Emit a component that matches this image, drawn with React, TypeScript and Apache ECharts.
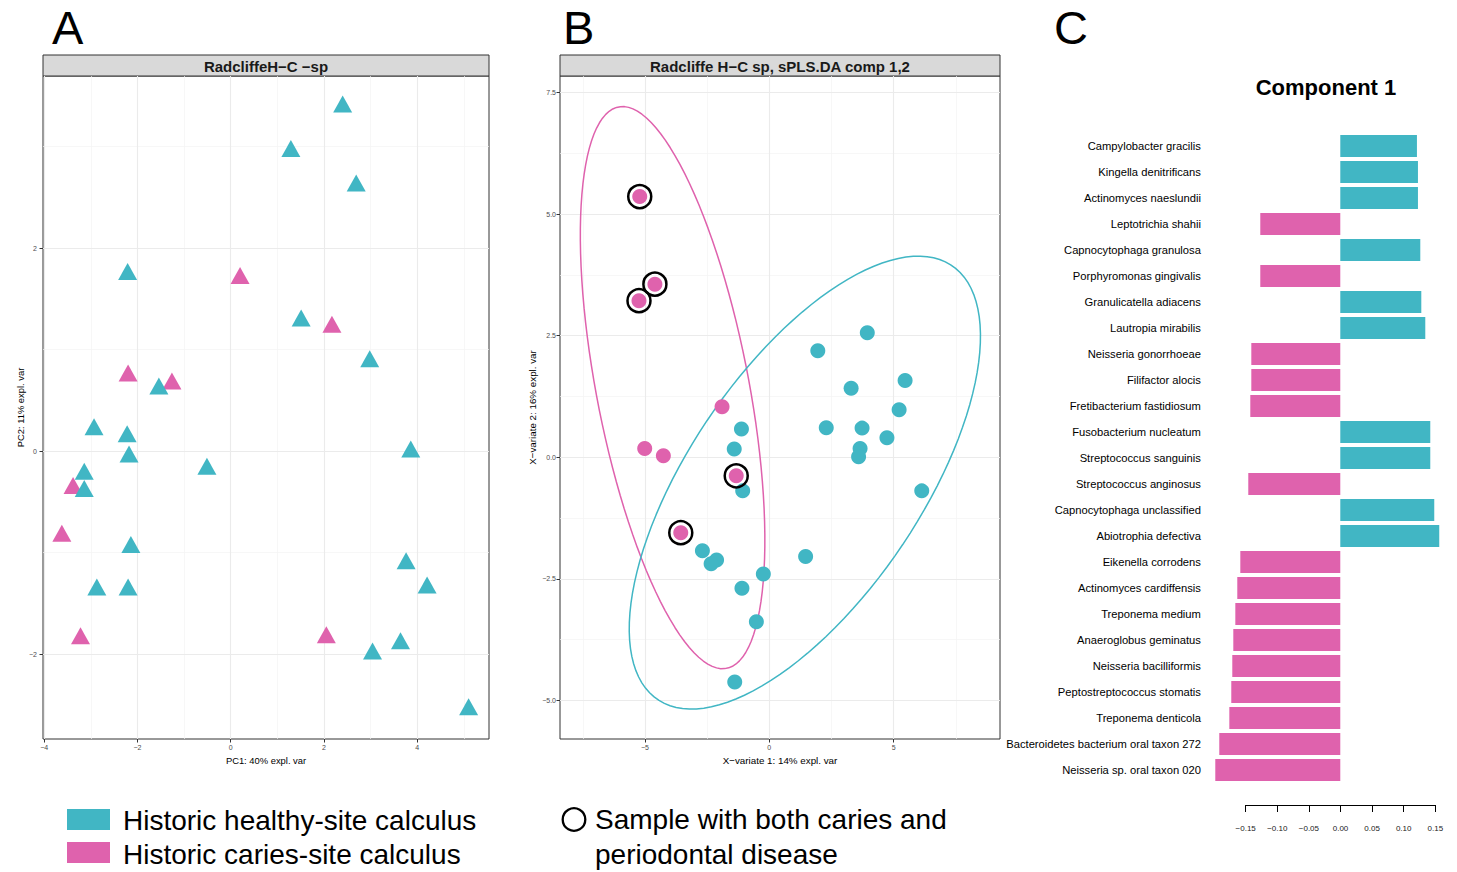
import React, { useEffect, useRef } from 'react';
import * as echarts from 'echarts';

// ---------------- DATA ----------------
// Panel A: PCA scores (PC1, PC2)
const healthyPCA: [number, number][] = [
  [2.40, 3.42], [1.29, 2.98], [2.69, 2.64], [-2.21, 1.77], [1.51, 1.31], [2.98, 0.91],
  [-1.54, 0.64], [-2.93, 0.24], [-2.22, 0.17], [-2.18, -0.03], [-0.51, -0.15], [3.86, 0.02],
  [-3.14, -0.20], [-3.14, -0.37], [-2.14, -0.92], [3.76, -1.08], [-2.87, -1.34], [-2.20, -1.34],
  [4.21, -1.32], [3.64, -1.87], [3.04, -1.97], [5.10, -2.52],
];
const cariesPCA: [number, number][] = [
  [0.20, 1.73], [2.17, 1.25], [-2.20, 0.77], [-1.26, 0.69], [-3.38, -0.34], [-3.62, -0.81],
  [-3.22, -1.82], [2.05, -1.81],
];

// Panel B: sPLS-DA variates (X-variate 1, X-variate 2)
const healthyPLSDA: [number, number][] = [
  [3.94, 2.56], [1.95, 2.19], [5.46, 1.58], [3.29, 1.42], [5.22, 0.98], [-1.12, 0.58],
  [2.29, 0.61], [3.73, 0.60], [4.73, 0.40], [-1.41, 0.17], [3.65, 0.18], [3.59, 0.01],
  [-1.07, -0.69], [6.13, -0.69], [-2.69, -1.92], [-2.12, -2.11], [-2.34, -2.19], [1.46, -2.04],
  [-0.24, -2.40], [-1.10, -2.69], [-0.52, -3.38], [-1.39, -4.62],
];
const cariesPLSDA: [number, number][] = [
  [-5.21, 5.36], [-4.60, 3.56], [-5.24, 3.22], [-1.90, 1.04], [-5.01, 0.18], [-4.26, 0.03],
  [-1.33, -0.38], [-3.56, -1.55],
];
// indices in cariesPLSDA of samples with both caries and periodontal disease
const bothDiseaseIdx: number[] = [0, 1, 2, 6, 7];

// Panel C: loadings on component 1
const speciesNames: string[] = [
  'Campylobacter gracilis', 'Kingella denitrificans', 'Actinomyces naeslundii', 'Leptotrichia shahii',
  'Capnocytophaga granulosa', 'Porphyromonas gingivalis', 'Granulicatella adiacens', 'Lautropia mirabilis',
  'Neisseria gonorrhoeae', 'Filifactor alocis', 'Fretibacterium fastidiosum', 'Fusobacterium nucleatum',
  'Streptococcus sanguinis', 'Streptococcus anginosus', 'Capnocytophaga unclassified', 'Abiotrophia defectiva',
  'Eikenella corrodens', 'Actinomyces cardiffensis', 'Treponema medium', 'Anaeroglobus geminatus',
  'Neisseria bacilliformis', 'Peptostreptococcus stomatis', 'Treponema denticola',
  'Bacteroidetes bacterium oral taxon 272', 'Neisseria sp. oral taxon 020',
];
const loadingValues: number[] = [
  0.1213, 0.1229, 0.1229, -0.1266, 0.1266, -0.1266, 0.1282, 0.1345,
  -0.1408, -0.1408, -0.1424, 0.1424, 0.1424, -0.1456, 0.1487, 0.1566,
  -0.1582, -0.1630, -0.1661, -0.1693, -0.1709, -0.1725, -0.1756, -0.1915, -0.1978,
];

// tick values
const aXTicks = [-4, -2, 0, 2, 4];
const aXMinor = [-3, -1, 1, 3, 5];
const aYTicks = [-2, 0, 2];
const aYMinor = [-1, 1, 3];
const bXTicks = [-5, 0, 5];
const bXMinor = [-7.5, -2.5, 2.5, 7.5];
const bYTicks = [-5, -2.5, 0, 2.5, 5, 7.5];
const bYMinor = [-3.75, -1.25, 1.25, 3.75, 6.25];

// ---------------- STYLE ----------------
const FONT = '"Liberation Sans", Arial, Helvetica, sans-serif';
const TEAL = '#41B6C4';
const PINK = '#DF62AD';

const CHI2_95_2DF = 2.4477; // sqrt(qchisq(0.95, 2))

function confidenceEllipse(pts: [number, number][], n = 120): [number, number][] {
  const m = pts.length;
  const cx = pts.reduce((s, p) => s + p[0], 0) / m;
  const cy = pts.reduce((s, p) => s + p[1], 0) / m;
  let sxx = 0, syy = 0, sxy = 0;
  pts.forEach(([x, y]) => {
    sxx += (x - cx) * (x - cx);
    syy += (y - cy) * (y - cy);
    sxy += (x - cx) * (y - cy);
  });
  sxx /= m - 1; syy /= m - 1; sxy /= m - 1;
  const sx = Math.sqrt(sxx), sy = Math.sqrt(syy);
  const r = Math.max(-1, Math.min(1, sxy / (sx * sy)));
  const d = Math.acos(r);
  const out: [number, number][] = [];
  for (let i = 0; i <= n; i++) {
    const a = (2 * Math.PI * i) / n;
    out.push([
      CHI2_95_2DF * sx * Math.cos(a + d / 2) + cx,
      CHI2_95_2DF * sy * Math.cos(a - d / 2) + cy,
    ]);
  }
  return out;
}

const minus = (s: string) => s.replace('-', '\u2212');

function majorAxis(o: any) {
  return {
    type: 'value',
    gridIndex: o.grid,
    position: o.position,
    min: o.min,
    max: o.max,
    axisLine: { show: false, onZero: false },
    axisTick: { show: true, length: 3.5, lineStyle: { color: '#333333', width: 1 }, customValues: o.ticks },
    axisLabel: {
      customValues: o.ticks,
      formatter: o.fmt,
      color: '#4D4D4D',
      fontSize: 7,
      fontFamily: FONT,
      margin: o.margin,
      showMinLabel: true,
      showMaxLabel: true,
    },
    splitLine: { show: true, lineStyle: { color: '#EBEBEB', width: 1.1 } },
    name: o.name,
    nameLocation: 'middle',
    nameGap: o.nameGap,
    nameTextStyle: { fontSize: o.nameSize, fontFamily: FONT, color: '#000000' },
    z: 1,
  };
}

function minorAxis(o: any) {
  return {
    type: 'value',
    gridIndex: o.grid,
    position: o.position,
    min: o.min,
    max: o.max,
    axisLine: { show: false, onZero: false },
    axisTick: { show: false, customValues: o.ticks },
    axisLabel: { show: false, customValues: o.ticks },
    splitLine: { show: true, lineStyle: { color: '#F3F3F3', width: 0.7 } },
    z: 0,
  };
}

export default function App() {
  const ref = useRef<HTMLDivElement>(null);

  useEffect(() => {
    document.body.style.margin = '0';
    document.body.style.overflow = 'hidden';
    if (!ref.current) return;
    const chart = echarts.init(ref.current, undefined, { renderer: 'svg' });

    const circled = bothDiseaseIdx.map((i) => cariesPLSDA[i]);
    const axisFmt = (v: number) => minus(String(v));
    const axisFmt1 = (v: number) => minus(v.toFixed(1));

    const option: any = {
      animation: false,
      backgroundColor: '#ffffff',
      textStyle: { fontFamily: FONT },
      grid: [
        { left: 43, top: 76, width: 446, height: 663, show: true, borderColor: '#333333', borderWidth: 1, backgroundColor: 'transparent', outerBoundsMode: 'none' },
        { left: 560, top: 76, width: 440, height: 663, show: true, borderColor: '#333333', borderWidth: 1, backgroundColor: 'transparent', outerBoundsMode: 'none' },
        { left: 1213.9, top: 133, width: 227.5, height: 650, outerBoundsMode: 'none' },
        { left: 1245.7, top: 790, width: 189.6, height: 15, outerBoundsMode: 'none' },
      ],
      xAxis: [
        majorAxis({ grid: 0, position: 'bottom', min: -4.024, max: 5.537, ticks: aXTicks, fmt: axisFmt, margin: 5, name: 'PC1: 40% expl. var', nameGap: 15, nameSize: 9.4 }),
        minorAxis({ grid: 0, position: 'top', min: -4.024, max: 5.537, ticks: aXMinor }),
        majorAxis({ grid: 1, position: 'bottom', min: -8.416, max: 9.276, ticks: bXTicks, fmt: axisFmt, margin: 5, name: 'X\u2212variate 1: 14% expl. var', nameGap: 15, nameSize: 9.8 }),
        minorAxis({ grid: 1, position: 'top', min: -8.416, max: 9.276, ticks: bXMinor }),
        {
          type: 'value', gridIndex: 2, min: -0.2, max: 0.16,
          axisLine: { show: false, onZero: false }, axisTick: { show: false }, axisLabel: { show: false }, splitLine: { show: false },
        },
        {
          type: 'value', gridIndex: 3, position: 'bottom', min: -0.15, max: 0.15, interval: 0.05,
          axisLine: { show: true, onZero: false, lineStyle: { color: '#000000', width: 1 } },
          axisTick: { show: true, length: 7, lineStyle: { color: '#000000', width: 1 } },
          axisLabel: { color: '#222222', fontSize: 8, fontFamily: FONT, margin: 19, formatter: (v: number) => minus(v.toFixed(2)) },
          splitLine: { show: false },
        },
      ],
      yAxis: [
        majorAxis({ grid: 0, position: 'left', min: -2.837, max: 3.695, ticks: aYTicks, fmt: axisFmt, margin: 6, name: 'PC2: 11% expl. var', nameGap: 18, nameSize: 9.4 }),
        minorAxis({ grid: 0, position: 'right', min: -2.837, max: 3.695, ticks: aYMinor }),
        majorAxis({ grid: 1, position: 'left', min: -5.791, max: 7.839, ticks: bYTicks, fmt: axisFmt1, margin: 4, name: 'X\u2212variate 2: 16% expl. var', nameGap: 23, nameSize: 9.8 }),
        minorAxis({ grid: 1, position: 'right', min: -5.791, max: 7.839, ticks: bYMinor }),
        {
          type: 'category', gridIndex: 2, data: speciesNames, inverse: true,
          axisLine: { show: false }, axisTick: { show: false },
          axisLabel: { interval: 0, color: '#000000', fontSize: 11.2, fontFamily: FONT, margin: 13 },
          splitLine: { show: false },
        },
        { type: 'value', gridIndex: 3, show: false },
      ],
      series: [
        // Panel A
        {
          type: 'scatter', xAxisIndex: 0, yAxisIndex: 0, data: cariesPCA,
          symbol: 'triangle', symbolSize: [19, 17], itemStyle: { color: PINK, opacity: 1 }, z: 3,
        },
        {
          type: 'scatter', xAxisIndex: 0, yAxisIndex: 0, data: healthyPCA,
          symbol: 'triangle', symbolSize: [19, 17], itemStyle: { color: TEAL, opacity: 1 }, z: 4,
        },
        // Panel B ellipses
        {
          type: 'line', xAxisIndex: 2, yAxisIndex: 2, data: confidenceEllipse(cariesPLSDA),
          showSymbol: false, symbol: 'none', smooth: false, lineStyle: { color: PINK, width: 1.5 }, z: 2, silent: true,
        },
        {
          type: 'line', xAxisIndex: 2, yAxisIndex: 2, data: confidenceEllipse(healthyPLSDA),
          showSymbol: false, symbol: 'none', smooth: false, lineStyle: { color: TEAL, width: 1.5 }, z: 2, silent: true,
        },
        // Panel B points
        {
          type: 'scatter', xAxisIndex: 2, yAxisIndex: 2, data: healthyPLSDA,
          symbol: 'circle', symbolSize: 15, itemStyle: { color: TEAL, opacity: 1 }, z: 3,
        },
        {
          type: 'scatter', xAxisIndex: 2, yAxisIndex: 2, data: cariesPLSDA,
          symbol: 'circle', symbolSize: 15, itemStyle: { color: PINK, opacity: 1 }, z: 4,
        },
        {
          type: 'scatter', xAxisIndex: 2, yAxisIndex: 2, data: circled,
          symbol: 'circle', symbolSize: 23,
          itemStyle: { color: 'rgba(0,0,0,0)', borderColor: '#000000', borderWidth: 2.5, opacity: 1 }, z: 5,
        },
        // Panel C
        {
          type: 'bar', xAxisIndex: 4, yAxisIndex: 4, barWidth: 22,
          data: loadingValues.map((v) => ({ value: v, itemStyle: { color: v >= 0 ? TEAL : PINK } })),
        },
      ],
      graphic: [
        // strips
        { type: 'rect', shape: { x: 43, y: 55, width: 446, height: 21 }, style: { fill: '#D9D9D9', stroke: '#333333', lineWidth: 1 } },
        { type: 'text', x: 266, y: 66, style: { text: 'RadcliffeH\u2212C \u2212sp', fontSize: 15, fontWeight: 'bold', fontFamily: FONT, fill: '#1A1A1A', align: 'center', verticalAlign: 'middle', textAlign: 'center', textVerticalAlign: 'middle' } },
        { type: 'rect', shape: { x: 560, y: 55, width: 440, height: 21 }, style: { fill: '#D9D9D9', stroke: '#333333', lineWidth: 1 } },
        { type: 'text', x: 780, y: 66, style: { text: 'Radcliffe H\u2212C sp, sPLS.DA comp 1,2', fontSize: 15, fontWeight: 'bold', fontFamily: FONT, fill: '#1A1A1A', align: 'center', verticalAlign: 'middle', textAlign: 'center', textVerticalAlign: 'middle' } },
        // panel letters
        { type: 'text', x: 52, y: 27, style: { text: 'A', fontSize: 47, fontFamily: FONT, fill: '#000000', align: 'left', verticalAlign: 'middle', textAlign: 'left', textVerticalAlign: 'middle' } },
        { type: 'text', x: 563, y: 27, style: { text: 'B', fontSize: 47, fontFamily: FONT, fill: '#000000', align: 'left', verticalAlign: 'middle', textAlign: 'left', textVerticalAlign: 'middle' } },
        { type: 'text', x: 1054, y: 27, style: { text: 'C', fontSize: 47, fontFamily: FONT, fill: '#000000', align: 'left', verticalAlign: 'middle', textAlign: 'left', textVerticalAlign: 'middle' } },
        // component title
        { type: 'text', x: 1326, y: 87, style: { text: 'Component 1', fontSize: 22, fontWeight: 'bold', fontFamily: FONT, fill: '#000000', align: 'center', verticalAlign: 'middle', textAlign: 'center', textVerticalAlign: 'middle' } },
        // legend
        { type: 'rect', shape: { x: 67, y: 809, width: 43, height: 21 }, style: { fill: TEAL } },
        { type: 'text', x: 123, y: 820, style: { text: 'Historic healthy-site calculus', fontSize: 28, fontFamily: FONT, fill: '#000000', align: 'left', verticalAlign: 'middle', textAlign: 'left', textVerticalAlign: 'middle' } },
        { type: 'rect', shape: { x: 67, y: 842, width: 43, height: 21 }, style: { fill: PINK } },
        { type: 'text', x: 123, y: 854.5, style: { text: 'Historic caries-site calculus', fontSize: 28, fontFamily: FONT, fill: '#000000', align: 'left', verticalAlign: 'middle', textAlign: 'left', textVerticalAlign: 'middle' } },
        { type: 'circle', shape: { cx: 574, cy: 819.5, r: 11.3 }, style: { fill: 'none', stroke: '#000000', lineWidth: 2.3 } },
        { type: 'text', x: 595, y: 819.5, style: { text: 'Sample with both caries and', fontSize: 28, fontFamily: FONT, fill: '#000000', align: 'left', verticalAlign: 'middle', textAlign: 'left', textVerticalAlign: 'middle' } },
        { type: 'text', x: 595, y: 854, style: { text: 'periodontal disease', fontSize: 28, fontFamily: FONT, fill: '#000000', align: 'left', verticalAlign: 'middle', textAlign: 'left', textVerticalAlign: 'middle' } },
      ],
    };

    chart.setOption(option);
    return () => chart.dispose();
  }, []);

  return <div ref={ref} style={{ width: 1457, height: 872 }} />;
}
